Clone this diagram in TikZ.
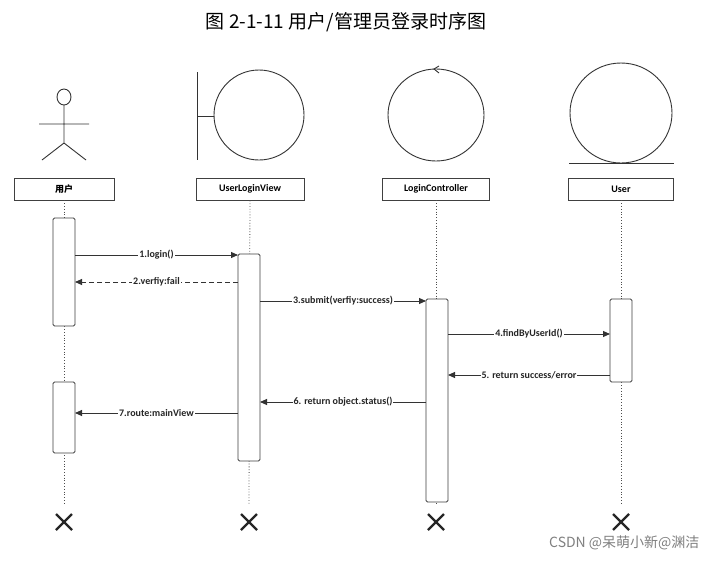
\documentclass[tikz,border=0pt]{standalone}
\usepackage{fontspec}
\setmainfont{Carlito}
\newfontfamily\cjk{Noto Sans CJK SC}
\usetikzlibrary{arrows.meta}
\begin{document}
\begin{tikzpicture}[x=1pt,y=-1pt,
  hdr/.style={draw=black!75,line width=0.9pt,minimum height=22pt,inner sep=0pt,font=\bfseries\fontsize{10}{11}\selectfont},
  act/.style={draw=black!75,fill=white,line width=0.9pt,rounded corners=1.5pt},
  life/.style={black!70,dotted,line width=0.8pt},
  msg/.style={draw=black!80,line width=0.9pt,-{Triangle[length=7pt,width=6pt]}},
  lab/.style={fill=white,inner sep=1pt,text=black!85,font=\bfseries\fontsize{10}{11}\selectfont},
  kill/.style={line width=2.2pt,black!85},
  icon/.style={line width=0.9pt,black!80}]
\useasboundingbox[fill=white] (0,0) rectangle (707,562);
\node[font=\cjk\fontsize{19}{20}\selectfont] (title) at (346,22) {图 2-1-11 用户/管理员登录时序图};
% icons
\draw[icon] (64,97) circle[x radius=7pt,y radius=8pt];
\draw[icon] (64,105) -- (64,143) (39,124) -- (89,124) (42,160) -- (64,143) -- (86,160);
\draw[icon] (197,72) -- (197,160) (197,116) -- (214,116);
\draw[icon] (259,115) ellipse[x radius=45pt,y radius=45pt];
\draw[icon] (436,115) ellipse[x radius=48pt,y radius=46pt];
\draw[icon] (439,66) -- (434,69) -- (439,73);
\draw[icon] (621,113) ellipse[x radius=51pt,y radius=50pt];
\draw[icon] (569,163) -- (674,163);
% headers
\node[hdr,minimum width=100pt,font=\cjk\bfseries\fontsize{9}{10}\selectfont] (u) at (64,189) {用户};
\node[hdr,minimum width=108pt] (v) at (250,189) {UserLoginView};
\node[hdr,minimum width=107pt] (c) at (436,189) {LoginController};
\node[hdr,minimum width=105pt] (m) at (621,189) {User};
% lifelines
\coordinate (ue) at (64,505); \coordinate (ve) at (249,505);
\coordinate (ce) at (436,505); \coordinate (me) at (621,505);
\draw[life] (u) -- (ue); \draw[life] (v) -- (ve); \draw[life] (c) -- (ce); \draw[life] (m) -- (me);
% activations
\draw[act] (53,218) rectangle (75,326);
\draw[act] (53,382) rectangle (75,453);
\draw[act] (238,254) rectangle (260,461);
\draw[act] (426,299) rectangle (448,502);
\draw[act] (610,299) rectangle (632,382);
% messages
\draw[msg] (75,255) -- node[lab]{1.login()} (238,255);
\draw[msg,dash pattern=on 5pt off 3pt] (238,282) -- node[lab]{2.verfiy:fail} (75,282);
\draw[msg] (260,301) -- node[lab]{3.submit(verfiy:success)} (426,301);
\draw[msg] (448,334) -- node[lab]{4.findByUserId()} (610,334);
\draw[msg] (610,375) -- node[lab]{5. return success/error} (448,375);
\draw[msg] (426,402) -- node[lab]{6. return object.status()} (260,402);
\draw[msg] (238,413) -- node[lab]{7.route:mainView} (75,413);
% destroy
\foreach \x in {64,249,436,621}{
  \draw[kill] (\x-8,514) -- (\x+8,530) (\x-8,530) -- (\x+8,514);}
\node[text=black!50,font=\cjk\fontsize{14}{15}\selectfont,anchor=east] (wm) at (703,543) {CSDN @呆萌小新@渊洁};
\end{tikzpicture}
\end{document}
